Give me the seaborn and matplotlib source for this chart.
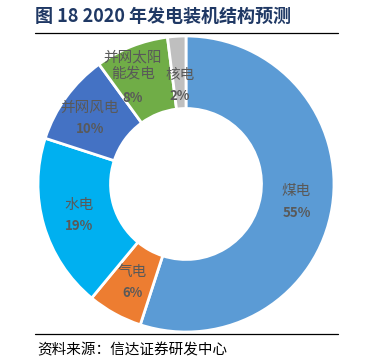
import numpy as np
import matplotlib
matplotlib.use("Agg")
import matplotlib.pyplot as plt
import seaborn as sns
from matplotlib.lines import Line2D

sns.set_theme(style="white")
plt.rcParams['font.family'] = ['Noto Sans CJK SC', 'DejaVu Sans']

# 数据
categories = ['煤电', '气电', '水电', '并网风电', '并网太阳能发电', '核电']
label_text = ['煤电', '气电', '水电', '并网风电', '并网太阳\n能发电', '核电']
shares = [55, 6, 19, 10, 8, 2]
colors = ['#5B9BD5', '#ED7D31', '#00B0F0', '#4472C4', '#70AD47', '#BFBFBF']

W, H = 386, 364
fig = plt.figure(figsize=(W / 100, H / 100), dpi=100)

cx, cy, r = 186, 184, 148
ax = fig.add_axes([(cx - r) / W, (H - cy - r) / H, 2 * r / W, 2 * r / H])

wedges, _ = ax.pie(shares, colors=colors, startangle=90, counterclock=False,
                   radius=1, wedgeprops=dict(width=0.49, edgecolor='white', linewidth=2))
ax.set_xlim(-1, 1)
ax.set_ylim(-1, 1)
ax.set_aspect('auto')
ax.axis('off')

# 标签放在圆环中间
for w, name, val in zip(wedges, label_text, shares):
    ang = np.deg2rad((w.theta1 + w.theta2) / 2)
    x, y = 0.755 * np.cos(ang), 0.755 * np.sin(ang)
    name_y, pct_y = y + 0.07, y - 0.075
    if name == '核电':
        x, name_y, pct_y = -0.04, 0.735, 0.595
    if name.startswith('并网太阳'):
        x, name_y, pct_y = -0.36, 0.80, 0.58
    if name == '并网风电':
        x -= 0.04
    ax.text(x, name_y, name, ha='center', va='center', fontsize=10.5,
            color='#595959', linespacing=1.2)
    ax.text(x, pct_y, f'{val}%', ha='center', va='center', fontsize=9.5,
            color='#595959', fontweight='bold')

# 标题与来源
fig.text(35 / W, 1 - 16 / H, '图 18 2020 年发电装机结构预测', ha='left', va='center',
         fontsize=13, fontweight='bold', color='#1F3864')
fig.add_artist(Line2D([35 / W, 338 / W], [1 - 33 / H, 1 - 33 / H], color='black', lw=0.9))
fig.add_artist(Line2D([35 / W, 338 / W], [1 - 334 / H, 1 - 334 / H], color='black', lw=0.9))
fig.text(37 / W, 1 - 350 / H, '资料来源：信达证券研发中心', ha='left', va='center',
         fontsize=10.5, style='italic', color='black')

fig.savefig('out.png', dpi=100)
